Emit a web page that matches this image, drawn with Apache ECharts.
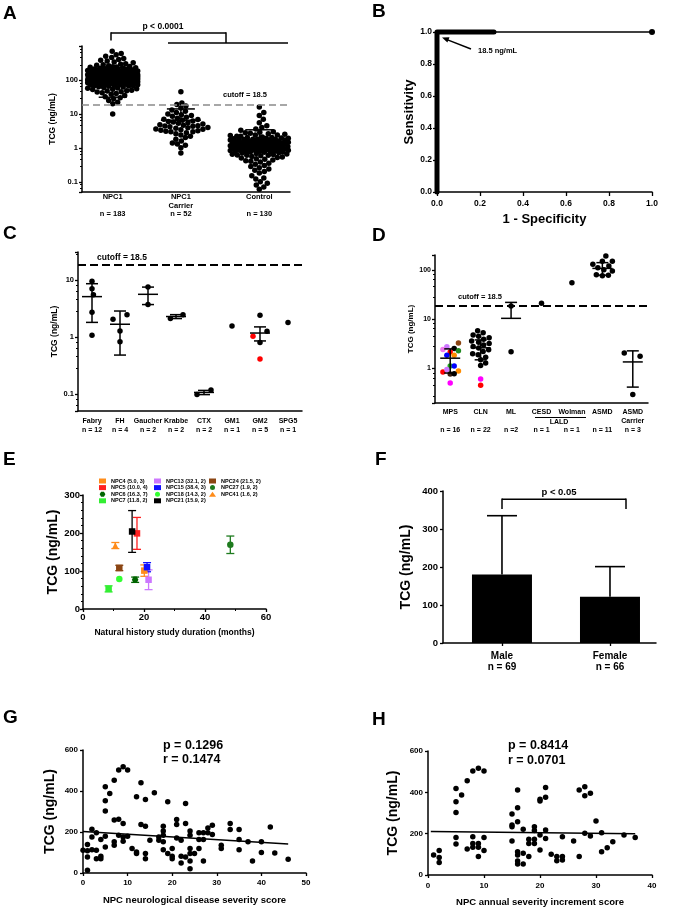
<!DOCTYPE html>
<html>
<head>
<meta charset="utf-8">
<script src="https://cdn.jsdelivr.net/npm/echarts@6.0.0/dist/echarts.min.js"></script>
<style>
html,body{margin:0;padding:0;background:#ffffff;}
#chart{width:673px;height:911px;}
</style>
</head>
<body>
<div id="chart"></div>
<script>
// ---------------- Panel A data ----------------
const aGroups = ['NPC1', 'NPC1\nCarrier', 'Control'];
const aCounts = ['n = 183', 'n = 52', 'n = 130'];
const aPos = [0, 1, 2.15];
const aCutoff = 18.5;
const aNPC1 = [10,20,22,25,28,30,32,35,38,40,
  42,44,45,47,48,50,52,53,55,57,58,60,
  62,63,65,66,68,70,71,72,74,75,76,78,79,80,
  81,82,84,85,86,88,89,90,91,92,94,95,96,97,98,99,100,
  101,102,103,104,105,106,107,108,109,110,111,112,113,114,115,116,117,118,119,120,121,122,123,124,125,126,127,128,129,130,
  131,132,133,134,135,136,137,138,139,140,141,142,143,144,145,146,147,148,150,152,154,156,158,160,
  162,164,166,168,170,172,174,176,178,180,182,185,188,190,193,196,200,
  205,210,215,220,225,230,235,240,245,250,260,270,280,290,300,
  320,340,360,380,400,430,460,500,550,600,700,
  93,99,105,110,115,118,120,122,125,128,130,132,135,138,140,142,145,148,150,155,160,165,170,175,180,185,190,195,87,83,77,73,67];
const aCarrier = [45,21,19,17,15,13,12,11,10,9.5,9,8.5,8,7.5,7,6.8,6.5,6.2,6,5.8,5.5,5.3,5,4.8,4.6,4.5,4.4,4.3,4.2,4,
  3.9,3.8,3.6,3.5,3.4,3.3,3.2,3.1,3,3,2.8,2.6,2.4,2.2,2,1.8,1.6,1.4,1.3,1.2,1.0,0.7];
const aControl = [16,11,9,7,5.5,4.5,4,3.6,3.3,3.0,
  2.9,2.8,2.7,2.6,2.5,2.4,2.3,2.2,2.1,2.0,
  1.95,1.9,1.85,1.8,1.75,1.7,1.65,1.6,1.55,1.5,1.9,1.8,1.7,1.6,1.5,
  1.48,1.45,1.42,1.4,1.38,1.35,1.32,1.3,1.28,1.25,1.22,1.2,1.18,1.15,1.12,1.1,1.08,1.05,1.02,1.0,
  0.98,0.96,0.94,0.92,0.9,0.88,0.86,0.84,0.82,0.8,0.78,0.76,0.74,0.72,0.7,0.95,0.9,0.85,0.8,0.75,
  0.68,0.66,0.64,0.62,0.6,0.58,0.56,0.54,0.52,0.5,0.48,0.46,0.44,0.42,0.4,
  0.38,0.35,0.33,0.3,0.28,0.26,0.24,0.22,0.2,0.18,
  0.15,0.13,0.12,0.1,0.09,0.08,0.07,0.06,
  1.1,1.2,1.3,1.4,1.0,0.9,1.15,1.25,1.35,1.45,1.05,0.95,1.6,1.7,1.8,2.0,2.2,2.4,0.8,0.85,0.6,0.65];
const aMean = [130, 6.5, 1.1];
const aLow = [31, null, null];
const aHigh = [230, 14, 3.4];

// ---------------- Panel B data ----------------
const rocDense = [[0, 0], [0, 1], [0.265, 1]];
const rocTail = [[0.265, 1], [1, 1]];

// ---------------- Panel C data ----------------
const cCats = ['Fabry', 'FH', 'Gaucher', 'Krabbe', 'CTX', 'GM1', 'GM2', 'SPG5'];
const cN = ['n = 12', 'n = 4', 'n = 2', 'n = 2', 'n = 2', 'n = 1', 'n = 5', 'n = 1'];
const cBlack = [[0,9.5],[0,7.0],[0.05,5.5],[0,2.7],[0,1.07],[0.75,2.04],[1.25,2.46],[1,1.27],[1,0.82],
  [2,7.5],[2,3.7],[2.8,2.1],[3.25,2.46],[3.75,0.097],[4.25,0.117],[5,1.56],[6,2.4],[6.25,1.26],[6,0.8],[7,1.8]];
const cRed = [[5.75, 1.03], [6, 0.41]];
const cMean = [5.1, 1.67, 5.6, 2.28, 0.106, null, 1.17, null];
const cLow = [1.8, 0.48, 3.7, 2.1, 0.097, null, 0.85, null];
const cHigh = [8.6, 2.85, 7.5, 2.46, 0.115, null, 1.5, null];

// ---------------- Panel D data ----------------
const dCats = ['MPS', 'CLN', 'ML', 'CESD', 'Wolman', 'ASMD', 'ASMD\nCarrier'];
const dN = ['n = 16', 'n = 22', 'n =2', 'n = 1', 'n = 1', 'n = 11', 'n = 3'];
const dMps = [[0.27,3.3],[-0.11,2.75],[-0.24,2.43],[0.13,2.55],[0.27,2.28],[0,2.17],[-0.11,1.86],[0.13,1.86],
  [0,1.13],[0.13,1.13],[-0.24,0.85],[-0.11,0.95],[0.27,0.89],[0,0.77],[0.13,0.78],[0,0.51]];
const dClnBlack = [5.8,5.3,4.8,4.5,4.2,3.9,3.6,3.4,3.2,3.0,2.8,2.6,2.4,2.2,2.0,1.9,1.7,1.5,1.3,1.15];
const dClnColored = [[1, 0.61], [1, 0.46]];
const dOther = [[2, 18.5], [2, 2.18], [3, 21], [4, 55]];
const dAsmd = [190,150,150,130,120,110,100,95,80,78,76];
const dCarrier = [[5.72, 2.07], [6.24, 1.78], [6, 0.296]];
const dMean = [1.62, 2.63, 10.4, null, null, 107, 1.36];
const dLow = [0.81, 1.5, null, null, null, 78, 0.42];
const dHigh = [2.5, 3.8, 21.9, null, null, 140, 2.28];
const dCutoff = 18.5;

// ---------------- Panel E data ----------------
const eNames = ['NPC4 (5.0, 3)','NPC5 (10.0, 4)','NPC6 (16.3, 7)','NPC7 (11.8, 2)',
  'NPC13 (32.1, 2)','NPC15 (38.4, 3)','NPC18 (14.3, 2)','NPC21 (15.9, 2)',
  'NPC24 (21.5, 2)','NPC27 (1.9, 2)','NPC41 (1.6, 2)'];
const eX = [20.1, 17.7, 17.1, 8.4, 21.5, 21.0, 11.9, 16.1, 11.9, 48.3, 10.6];
const eY = [101, 199, 77, 53, 77, 110, 79, 204, 108, 169, 167];
const eErr = [15, 42, 7, 8, 26, 12, 0, 55, 7, 23, 8];

// ---------------- Panel F data ----------------
const fCats = ['Male', 'Female'];
const fN = ['n = 69', 'n = 66'];
const fPos = [0, 1];
const fMean = [180, 122];
const fSd = [155, 79];

// ---------------- Panel G data ----------------
const gPoints = [[0,111],[1,139],[1,108],[1,78],[1,13],[2,214],[2,176],[3,196],[3,111],[3,70],[4,163],[4,82],[4,70],[2,114],
  [5,421],[5,352],[5,302],[5,179],[5,127],[6,388],[7,453],[7,258],[7,152],[7,135],[8,502],[8,262],[8,184],
  [9,518],[9,241],[9,176],[9,155],[10,502],[10,179],[11,119],[12,372],[12,103],[12,95],[13,440],[13,236],
  [14,359],[14,228],[14,95],[14,70],[15,160],[16,391],[17,176],[17,160],[18,228],[18,205],[18,184],[18,152],[18,114],
  [19,347],[19,95],[20,119],[20,82],[20,70],[21,261],[21,236],[21,171],[22,160],[22,82],[22,49],[23,339],[23,241],[23,78],
  [24,205],[24,184],[24,119],[24,95],[24,59],[24,21],[25,95],[26,196],[26,163],[26,119],[27,196],[27,163],[27,59],
  [28,196],[28,220],[29,233],[29,188],[31,135],[31,119],[33,241],[33,212],[35,212],[35,163],[35,114],[37,152],[38,59],
  [40,152],[40,100],[42,225],[43,98],[46,67]];
const gFit = [[0, 203], [46, 141]];

// ---------------- Panel H data ----------------
const hPoints = [[1,97],[2,118],[2,85],[2,60],[5,419],[5,355],[5,303],[5,182],[5,150],[6,387],[7,456],[7,126],
  [8,503],[8,185],[8,153],[8,134],[9,516],[9,153],[9,134],[9,89],[10,503],[10,181],[10,118],
  [15,295],[15,242],[15,234],[15,165],[16,411],[16,326],[16,258],[16,113],[16,97],[16,68],[16,53],
  [17,221],[17,105],[17,53],[18,173],[18,153],[18,89],[19,234],[19,215],[19,173],[19,153],
  [20,366],[20,358],[20,194],[20,121],[21,423],[21,376],[21,218],[21,177],[22,100],[23,89],[23,69],
  [24,185],[24,89],[24,73],[26,165],[27,411],[27,89],[28,427],[28,384],[28,202],[29,395],[29,189],
  [30,261],[31,205],[31,113],[32,132],[33,161],[35,194],[37,182]];
const hFit = [[0.5, 211], [37, 199]];

// ---------------- styles ----------------
const FF = 'Liberation Sans, Arial, Helvetica, sans-serif';
const mpsPalette = ['#8B4513','#CC77FF','#EE77EE','#000000','#228B22','#FF0000','#0000FF','#FF8C00',
  '#22AA22','#0000FF','#FF0000','#CC77FF','#FF8C00','#3D2314','#000000','#FF00FF'];
const clnPalette = ['#FF00FF', '#FF0000'];
const eColors = ['#FF8C1A','#FF2020','#006400','#33EE33','#CC77FF','#1010FF','#33FF33','#000000','#8B4513','#1E7B1E','#FF8C1A'];
const hexPath = 'path://M1,0 L3,0 L4,1.73 L3,3.46 L1,3.46 L0,1.73 Z';
const eSymbols = ['rect','rect',hexPath,'rect','rect','rect','circle','rect','rect','circle','triangle'];

function lbl(fs, extra) { return Object.assign({color:'#000', fontFamily:FF, fontWeight:'bold', fontSize:fs}, extra || {}); }
const axLine = {show:true, onZero:false, lineStyle:{color:'#000', width:1.5}};
function tick(len) { return {show:true, inside:false, length:len, lineStyle:{color:'#000', width:1.3}}; }
const noSplit = {show:false};
function fill(c) { return {color:c, opacity:1, borderWidth:0}; }
function idxList(arr) { return arr.map((a, i) => i); }

// deterministic beeswarm layout (pixel offsets)
function swarmOffsets(ysPx, dot, maxHalf) {
  const order = ysPx.map((y, i) => i).sort((a, b) => ysPx[a] - ysPx[b]);
  const placed = [];
  const out = new Array(ysPx.length).fill(0);
  for (const i of order) {
    const y = ysPx[i];
    const near = placed.filter(p => Math.abs(p[1] - y) < dot);
    let best = 0, bestD = -1;
    for (let k = 0; ; k++) {
      const cand = (k % 2 === 1 ? 1 : -1) * Math.ceil(k / 2) * 0.5;
      if (Math.abs(cand) > maxHalf) break;
      let md = Infinity;
      for (const p of near) { const d = Math.hypot(p[0] - cand, p[1] - y); if (d < md) md = d; }
      if (md >= dot) { best = cand; bestD = md; break; }
      if (md > bestD) { bestD = md; best = cand; }
    }
    out[i] = best;
    placed.push([best, y]);
  }
  return out;
}
function swarmData(values, center, pxPerDecade, pxPerUnit, dot, maxHalf) {
  const off = swarmOffsets(values.map(v => Math.log10(v) * pxPerDecade), dot, maxHalf);
  return values.map((v, i) => [center + off[i] / pxPerUnit, v]);
}

const A_PX_UNIT = 208 / 3.05, A_PX_DEC = 146 / Math.log10(1000 / 0.05);
const D_PX_UNIT = 213 / 7, D_PX_DEC = 148 / Math.log10(200 / 0.2);

function statsData(pos, mean, low, high) {
  const out = [];
  for (let i = 0; i < mean.length; i++) {
    if (mean[i] == null) continue;
    out.push([pos[i], mean[i], low[i] == null ? '-' : low[i], high[i] == null ? '-' : high[i]]);
  }
  return out;
}
function errRender(meanHalf, capHalf) {
  return function (params, api) {
    const x = api.value(0), m = api.value(1), lo = api.value(2), hi = api.value(3);
    const c = api.coord([x, m]);
    const st = {stroke:'#000', lineWidth:1.5};
    const ch = [{type:'line', shape:{x1:c[0]-meanHalf, y1:c[1], x2:c[0]+meanHalf, y2:c[1]}, style:st}];
    let top = c[1], bot = c[1];
    if (isFinite(hi)) { const p = api.coord([x, hi]); top = p[1];
      ch.push({type:'line', shape:{x1:c[0]-capHalf, y1:p[1], x2:c[0]+capHalf, y2:p[1]}, style:st}); }
    if (isFinite(lo)) { const p = api.coord([x, lo]); bot = p[1];
      ch.push({type:'line', shape:{x1:c[0]-capHalf, y1:p[1], x2:c[0]+capHalf, y2:p[1]}, style:st}); }
    ch.push({type:'line', shape:{x1:c[0], y1:top, x2:c[0], y2:bot}, style:st});
    return {type:'group', children:ch};
  };
}
function catLabel(name, n) { return name.indexOf('\n') >= 0 ? name + '\n' + n : name + '\n\n' + n; }
function logLabel(v) { return String(+v.toPrecision(6)); }
function posLabel(posArr, fn) {
  return v => { const i = posArr.findIndex(p => Math.abs(p - v) < 1e-6); return i < 0 ? '' : fn(i); };
}

const cPos = idxList(cCats);
const dPos = idxList(dCats);

const chart = echarts.init(document.getElementById('chart'), null, {renderer:'canvas'});

const option = {
  animation: false,
  backgroundColor: '#ffffff',
  textStyle: {fontFamily: FF},
  grid: [
    {left:82, top:46, width:208, height:146, outerBoundsMode:'none'},
    {left:437, top:32, width:215, height:160, outerBoundsMode:'none'},
    {left:78, top:252, width:224, height:159, outerBoundsMode:'none'},
    {left:435, top:255, width:213, height:148, outerBoundsMode:'none'},
    {left:83, top:495, width:183, height:114, outerBoundsMode:'none'},
    {left:443, top:491, width:213, height:152, outerBoundsMode:'none'},
    {left:83, top:750, width:223, height:123, outerBoundsMode:'none'},
    {left:428, top:751, width:224, height:124, outerBoundsMode:'none'}
  ],
  xAxis: [
    {gridIndex:0, type:'value', min:-0.45, max:2.6, axisLine:axLine, axisTick:{show:false}, splitLine:noSplit,
      axisLabel: lbl(7.5, {customValues:aPos, margin:1, lineHeight:8.5,
        formatter: posLabel(aPos, i => catLabel(aGroups[i], aCounts[i]))})},
    {gridIndex:1, type:'value', min:0, max:1, interval:0.2, axisLine:axLine, axisTick:tick(4), splitLine:noSplit,
      axisLabel: lbl(8.5, {formatter: v => v.toFixed(1), margin:7}),
      name:'1 - Specificity', nameLocation:'middle', nameGap:21, nameTextStyle: lbl(13)},
    {gridIndex:2, type:'value', min:-0.5, max:cCats.length - 0.5, axisLine:axLine, axisTick:{show:false}, splitLine:noSplit,
      axisLabel: lbl(7, {customValues:cPos, margin:6, lineHeight:9, formatter: posLabel(cPos, i => cCats[i] + '\n' + cN[i])})},
    {gridIndex:3, type:'value', min:-0.5, max:dCats.length - 0.5, axisLine:axLine, axisTick:{show:false}, splitLine:noSplit,
      axisLabel: lbl(7, {customValues:dPos, margin:5, lineHeight:8.8, formatter: posLabel(dPos, i => catLabel(dCats[i], dN[i]))})},
    {gridIndex:4, type:'value', min:0, max:60, interval:20, axisLine:axLine, axisTick:tick(3), splitLine:noSplit,
      minorTick:{show:true, splitNumber:2, length:2, lineStyle:{color:'#000', width:1}},
      axisLabel: lbl(9.5, {margin:3}),
      name:'Natural history study duration (months)', nameLocation:'middle', nameGap:19, nameTextStyle: lbl(8.5)},
    {gridIndex:5, type:'value', min:-0.546, max:1.426, axisLine:axLine, splitLine:noSplit,
      axisTick:{show:true, customValues:fPos, length:3, lineStyle:{color:'#000', width:1.3}},
      axisLabel: lbl(10, {customValues:fPos, margin:8, lineHeight:11, formatter: posLabel(fPos, i => fCats[i] + '\n' + fN[i])})},
    {gridIndex:6, type:'value', min:0, max:50, interval:10, axisLine:axLine, axisTick:tick(3), splitLine:noSplit,
      axisLabel: lbl(8, {margin:6}),
      name:'NPC neurological disease severity score', nameLocation:'middle', nameGap:22, nameTextStyle: lbl(9.5)},
    {gridIndex:7, type:'value', min:0, max:40, interval:10, axisLine:axLine, axisTick:tick(3), splitLine:noSplit,
      axisLabel: lbl(8, {margin:7}),
      name:'NPC annual severity increment score', nameLocation:'middle', nameGap:22, nameTextStyle: lbl(9.5)}
  ],
  yAxis: [
    {gridIndex:0, type:'log', logBase:10, min:0.05, max:1000, axisLine:axLine, axisTick:tick(3), splitLine:noSplit,
      minorTick:{show:true, splitNumber:5, length:2, lineStyle:{color:'#000', width:1}},
      axisLabel: lbl(7.5, {margin:4, showMinLabel:false, showMaxLabel:false, formatter:logLabel}),
      name:'TCG (ng/mL)', nameLocation:'middle', nameGap:25, nameRotate:90, nameTextStyle: lbl(8.5)},
    {gridIndex:1, type:'value', min:0, max:1, interval:0.2, axisLine:axLine, axisTick:tick(4), splitLine:noSplit,
      axisLabel: lbl(8.5, {formatter: v => v.toFixed(1), margin:5}),
      name:'Sensitivity', nameLocation:'middle', nameGap:21, nameRotate:90, nameTextStyle: lbl(13)},
    {gridIndex:2, type:'log', logBase:10, min:0.05, max:31, axisLine:axLine, axisTick:tick(3), splitLine:noSplit,
      minorTick:{show:true, splitNumber:5, length:2, lineStyle:{color:'#000', width:1}},
      axisLabel: lbl(7.5, {margin:4, showMinLabel:false, showMaxLabel:false, formatter:logLabel}),
      name:'TCG (ng/mL)', nameLocation:'middle', nameGap:19, nameRotate:90, nameTextStyle: lbl(8.5)},
    {gridIndex:3, type:'log', logBase:10, min:0.2, max:200, axisLine:axLine, axisTick:tick(3), splitLine:noSplit,
      minorTick:{show:true, splitNumber:5, length:2, lineStyle:{color:'#000', width:1}},
      axisLabel: lbl(7, {margin:4, showMinLabel:false, showMaxLabel:false, formatter:logLabel}),
      name:'TCG (ng/mL)', nameLocation:'middle', nameGap:20, nameRotate:90, nameTextStyle: lbl(8)},
    {gridIndex:4, type:'value', min:0, max:300, interval:100, axisLine:axLine, axisTick:tick(3), splitLine:noSplit,
      minorTick:{show:true, splitNumber:5, length:2, lineStyle:{color:'#000', width:1}},
      axisLabel: lbl(9.5, {margin:3}),
      name:'TCG (ng/mL)', nameLocation:'middle', nameGap:19, nameRotate:90, nameTextStyle: lbl(14)},
    {gridIndex:5, type:'value', min:0, max:400, interval:100, axisLine:axLine, axisTick:tick(3), splitLine:noSplit,
      axisLabel: lbl(9.5, {margin:5}),
      name:'TCG (ng/mL)', nameLocation:'middle', nameGap:30, nameRotate:90, nameTextStyle: lbl(14)},
    {gridIndex:6, type:'value', min:0, max:600, interval:200, axisLine:axLine, axisTick:tick(3), splitLine:noSplit,
      axisLabel: lbl(8, {margin:5}),
      name:'TCG (ng/mL)', nameLocation:'middle', nameGap:26, nameRotate:90, nameTextStyle: lbl(14)},
    {gridIndex:7, type:'value', min:0, max:600, interval:200, axisLine:axLine, axisTick:tick(3), splitLine:noSplit,
      axisLabel: lbl(8, {margin:5}),
      name:'TCG (ng/mL)', nameLocation:'middle', nameGap:28, nameRotate:90, nameTextStyle: lbl(14)}
  ],
  legend: [
    {data: eNames.slice(0, 4), orient:'vertical', left:99, top:478, padding:0, itemGap:0.6, itemWidth:7, itemHeight:5,
      selectedMode:false, textStyle: lbl(5.5, {lineHeight:6})},
    {data: eNames.slice(4, 8), orient:'vertical', left:154, top:478, padding:0, itemGap:0.6, itemWidth:7, itemHeight:5,
      selectedMode:false, textStyle: lbl(5.5, {lineHeight:6})},
    {data: eNames.slice(8), orient:'vertical', left:209, top:478, padding:0, itemGap:0.6, itemWidth:7, itemHeight:5,
      selectedMode:false, textStyle: lbl(5.5, {lineHeight:6})}
  ],
  series: []
};

const S = option.series;
const dot = fill('#000');
// Panel A
S.push({type:'scatter', name:'A NPC1', xAxisIndex:0, yAxisIndex:0, symbolSize:5.5, itemStyle:dot, clip:false,
  data: swarmData(aNPC1, aPos[0], A_PX_DEC, A_PX_UNIT, 5, 25),
  markLine:{silent:true, symbol:'none', label:{show:false}, lineStyle:{color:'#8a8a8a', type:[7,4], width:1.6},
    data:[{yAxis:aCutoff}]}});
S.push({type:'scatter', name:'A Carrier', xAxisIndex:0, yAxisIndex:0, symbolSize:5.5, itemStyle:dot, clip:false,
  data: swarmData(aCarrier, aPos[1], A_PX_DEC, A_PX_UNIT, 5, 27)});
S.push({type:'scatter', name:'A Control', xAxisIndex:0, yAxisIndex:0, symbolSize:5.5, itemStyle:dot, clip:false,
  data: swarmData(aControl, aPos[2], A_PX_DEC, A_PX_UNIT, 5, 29)});
S.push({type:'custom', name:'A stats', xAxisIndex:0, yAxisIndex:0, z:5, clip:false,
  encode:{x:0, y:[1,2,3]}, renderItem: errRender(20, 14), data: statsData(aPos, aMean, aLow, aHigh)});

// Panel B
S.push({type:'line', name:'ROC', xAxisIndex:1, yAxisIndex:1, data:rocDense, showSymbol:false, clip:false,
  lineStyle:{color:'#000', width:5, cap:'round', join:'round'}});
S.push({type:'line', name:'ROC tail', xAxisIndex:1, yAxisIndex:1, data:rocTail, showSymbol:false, clip:false,
  lineStyle:{color:'#000', width:1.5}});
S.push({type:'scatter', name:'ROC end', xAxisIndex:1, yAxisIndex:1, data:[rocTail[rocTail.length - 1]], symbolSize:6,
  itemStyle:dot, clip:false});

// Panel C
S.push({type:'scatter', name:'C black', xAxisIndex:2, yAxisIndex:2, symbolSize:5.5, itemStyle:dot, clip:false, data:cBlack,
  markLine:{silent:true, symbol:'none', label:{show:false}, lineStyle:{color:'#000', type:[8,4], width:2},
    data:[{yAxis:aCutoff}]}});
S.push({type:'scatter', name:'C red', xAxisIndex:2, yAxisIndex:2, symbolSize:5.5, itemStyle:fill('#FF0000'), clip:false, data:cRed});
S.push({type:'custom', name:'C stats', xAxisIndex:2, yAxisIndex:2, z:5, clip:false,
  encode:{x:0, y:[1,2,3]}, renderItem: errRender(10, 6), data: statsData(cPos, cMean, cLow, cHigh)});

// Panel D
S.push({type:'scatter', name:'D MPS', xAxisIndex:3, yAxisIndex:3, symbolSize:5.5, clip:false, z:3,
  itemStyle:{color: p => mpsPalette[p.dataIndex], opacity:1, borderWidth:0}, data: dMps.map(p => [dPos[0] + p[0], p[1]])});
S.push({type:'scatter', name:'D CLN', xAxisIndex:3, yAxisIndex:3, symbolSize:5.5, itemStyle:dot, clip:false,
  data: swarmData(dClnBlack, dPos[1], D_PX_DEC, D_PX_UNIT, 5.5, 10),
  markLine:{silent:true, symbol:'none', label:{show:false}, lineStyle:{color:'#000', type:[8,4], width:2},
    data:[{yAxis:dCutoff}]}});
S.push({type:'scatter', name:'D CLN colored', xAxisIndex:3, yAxisIndex:3, symbolSize:5.5, clip:false,
  itemStyle:{color: p => clnPalette[p.dataIndex], opacity:1, borderWidth:0}, data:dClnColored});
S.push({type:'scatter', name:'D other', xAxisIndex:3, yAxisIndex:3, symbolSize:5.5, itemStyle:dot, clip:false, data:dOther});
S.push({type:'scatter', name:'D ASMD', xAxisIndex:3, yAxisIndex:3, symbolSize:5.5, itemStyle:dot, clip:false,
  data: swarmData(dAsmd, dPos[5], D_PX_DEC, D_PX_UNIT, 6, 10)});
S.push({type:'scatter', name:'D carrier', xAxisIndex:3, yAxisIndex:3, symbolSize:5.5, itemStyle:dot, clip:false, data:dCarrier});
S.push({type:'custom', name:'D stats', xAxisIndex:3, yAxisIndex:3, z:5, clip:false,
  encode:{x:0, y:[1,2,3]}, renderItem: errRender(10, 6), data: statsData(dPos, dMean, dLow, dHigh)});

// Panel E
S.push({type:'custom', name:'E errors', xAxisIndex:4, yAxisIndex:4, z:1, clip:false, encode:{x:0, y:[1,2]},
  data: eX.map((x, i) => [x, eY[i] - eErr[i], eY[i] + eErr[i]]),
  renderItem: function (params, api) {
    const x = api.value(0), lo = api.value(1), hi = api.value(2);
    if (hi - lo <= 0) return null;
    const a = api.coord([x, lo]), b = api.coord([x, hi]);
    const st = {stroke: eColors[params.dataIndex], lineWidth:1.3};
    return {type:'group', children:[
      {type:'line', shape:{x1:a[0], y1:a[1], x2:b[0], y2:b[1]}, style:st},
      {type:'line', shape:{x1:a[0]-4, y1:a[1], x2:a[0]+4, y2:a[1]}, style:st},
      {type:'line', shape:{x1:b[0]-4, y1:b[1], x2:b[0]+4, y2:b[1]}, style:st}]};
  }});
eNames.forEach((n, i) => {
  S.push({type:'scatter', name:n, xAxisIndex:4, yAxisIndex:4, z:3, symbol:eSymbols[i], symbolSize:6.5, clip:false,
    itemStyle:fill(eColors[i]), data:[[eX[i], eY[i]]]});
});

// Panel F
S.push({type:'bar', name:'F bars', xAxisIndex:5, yAxisIndex:5, barWidth:60, itemStyle:{color:'#000', opacity:1},
  data: fPos.map((p, i) => [p, fMean[i]])});
S.push({type:'custom', name:'F sd', xAxisIndex:5, yAxisIndex:5, z:5, clip:false, encode:{x:0, y:[1,2]},
  data: fPos.map((p, i) => [p, fMean[i], fMean[i] + fSd[i]]),
  renderItem: function (params, api) {
    const a = api.coord([api.value(0), api.value(1)]), b = api.coord([api.value(0), api.value(2)]);
    const st = {stroke:'#000', lineWidth:1.6};
    return {type:'group', children:[
      {type:'line', shape:{x1:a[0], y1:a[1], x2:b[0], y2:b[1]}, style:st},
      {type:'line', shape:{x1:b[0]-15, y1:b[1], x2:b[0]+15, y2:b[1]}, style:st}]};
  }});

// Panel G
S.push({type:'scatter', name:'G points', xAxisIndex:6, yAxisIndex:6, symbolSize:5.5, itemStyle:dot, clip:false, data:gPoints});
S.push({type:'line', name:'G fit', xAxisIndex:6, yAxisIndex:6, showSymbol:false, data:gFit, lineStyle:{color:'#000', width:1.5}});
// Panel H
S.push({type:'scatter', name:'H points', xAxisIndex:7, yAxisIndex:7, symbolSize:5.5, itemStyle:dot, clip:false, data:hPoints});
S.push({type:'line', name:'H fit', xAxisIndex:7, yAxisIndex:7, showSymbol:false, data:hFit, lineStyle:{color:'#000', width:1.5}});

// ---------------- annotations ----------------
function txt(t, x, y, size, align) {
  return {type:'text', x:x, y:y, z:50, style:{text:t, fill:'#000', font:'bold ' + size + 'px ' + FF,
    align:align || 'center', verticalAlign:'middle', textAlign:align || 'center', textVerticalAlign:'middle'}};
}
function ln(x1, y1, x2, y2, w) {
  return {type:'line', z:50, shape:{x1:x1, y1:y1, x2:x2, y2:y2}, style:{stroke:'#000', lineWidth:w || 1.5}};
}
option.graphic = [
  txt('A', 3, 14, 19, 'left'), txt('B', 372, 12, 19, 'left'), txt('C', 3, 234, 19, 'left'), txt('D', 372, 236, 19, 'left'),
  txt('E', 3, 460, 19, 'left'), txt('F', 375, 460, 19, 'left'), txt('G', 3, 718, 19, 'left'), txt('H', 372, 720, 19, 'left'),
  ln(111, 33, 226, 33), ln(111, 32.3, 111, 40.5), ln(226, 32.3, 226, 43), ln(168, 43, 288, 43),
  txt('p < 0.0001', 163, 27, 8.5),
  txt('cutoff = 18.5', 245, 94.5, 7.5),
  ln(471, 49, 447, 39.6, 1.5),
  {type:'polygon', z:50, shape:{points:[[442, 37.6], [449.5, 37.2], [447.4, 42.6]]}, style:{fill:'#000'}},
  txt('18.5 ng/mL', 478, 51, 7.5, 'left'),
  txt('cutoff = 18.5', 122, 258, 8.5),
  txt('cutoff = 18.5', 480, 297, 7.5),
  ln(535, 417.5, 586, 417.5, 1),
  txt('LALD', 559, 422, 7),
  ln(502, 499.3, 626, 499.3), ln(502, 498.6, 502, 509), ln(626, 498.6, 626, 509),
  txt('p < 0.05', 559, 492.5, 9.5),
  txt('p = 0.1296', 163, 746, 12.5, 'left'), txt('r = 0.1474', 163, 760, 12.5, 'left'),
  txt('p = 0.8414', 508, 746, 12.5, 'left'), txt('r = 0.0701', 508, 761, 12.5, 'left')
];

chart.setOption(option);
</script>
</body>
</html>
